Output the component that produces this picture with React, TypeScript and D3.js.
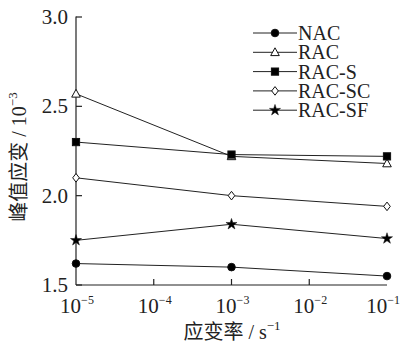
import React from "react";
import * as d3 from "d3";

const rates = [1e-5, 1e-3, 1e-1];
const seriesNames = ["NAC", "RAC", "RAC-S", "RAC-SC", "RAC-SF"];
const nacValues = [1.62, 1.6, 1.55];
const racValues = [2.57, 2.22, 2.18];
const racSValues = [2.3, 2.23, 2.22];
const racSCValues = [2.1, 2.0, 1.94];
const racSFValues = [1.75, 1.84, 1.76];
const yTicks = [1.5, 2.0, 2.5, 3.0];
const xTickExps = [-5, -4, -3, -2, -1];

const W = 401;
const H = 349;
const FONT = "'Liberation Serif', 'Times New Roman', serif";
const CJK = "'Noto Sans CJK SC', sans-serif";

const x = d3.scaleLog().domain([1e-5, 1e-1]).range([76, 387]);
const y = d3.scaleLinear().domain([1.5, 3.0]).range([285, 17]);

type Shape = "circle" | "triangle" | "square" | "diamond" | "star";
const seriesData: { name: string; values: number[]; shape: Shape; fill: string }[] = [
  { name: seriesNames[0], values: nacValues, shape: "circle", fill: "#000" },
  { name: seriesNames[1], values: racValues, shape: "triangle", fill: "#fff" },
  { name: seriesNames[2], values: racSValues, shape: "square", fill: "#000" },
  { name: seriesNames[3], values: racSCValues, shape: "diamond", fill: "#fff" },
  { name: seriesNames[4], values: racSFValues, shape: "star", fill: "#000" },
];

function Marker({ shape, cx, cy, fill }: { shape: Shape; cx: number; cy: number; fill: string }) {
  const stroke = "#111";
  if (shape === "circle") return <circle cx={cx} cy={cy} r={3.8} fill={fill} stroke={stroke} strokeWidth={1} />;
  if (shape === "square") return <rect x={cx - 3.6} y={cy - 3.6} width={7.2} height={7.2} fill={fill} stroke={stroke} strokeWidth={1} />;
  if (shape === "triangle")
    return (
      <path
        d={`M${cx},${cy - 4.5}L${cx + 4.3},${cy + 3.3}L${cx - 4.3},${cy + 3.3}Z`}
        fill={fill}
        stroke={stroke}
        strokeWidth={1}
      />
    );
  if (shape === "diamond")
    return (
      <path
        d={`M${cx},${cy - 4.3}L${cx + 3.3},${cy}L${cx},${cy + 4.3}L${cx - 3.3},${cy}Z`}
        fill={fill}
        stroke={stroke}
        strokeWidth={1}
      />
    );
  const sym = d3.symbol().type(d3.symbolStar).size(38)();
  return <path d={sym || ""} transform={`translate(${cx},${cy})`} fill={fill} stroke={stroke} strokeWidth={0.5} />;
}

export default function App() {
  const line = d3
    .line<number>()
    .x((_, i) => x(rates[i]))
    .y((d) => y(d));
  const legendX0 = 253;
  const legendX1 = 297;
  const legendY0 = 33;
  const legendStep = 19.3;

  return (
    <svg width={W} height={H} style={{ position: "absolute", left: 0, top: 0, background: "#fff" }}>
      <rect x={0} y={0} width={W} height={H} fill="#fff" />
      {/* axes */}
      <line x1={76} y1={16.5} x2={76} y2={285} stroke="#222" strokeWidth={1.2} />
      <line x1={76} y1={285} x2={387} y2={285} stroke="#222" strokeWidth={1.2} />
      {yTicks.map((t) => (
        <g key={t}>
          <line x1={76} x2={82} y1={y(t)} y2={y(t)} stroke="#222" strokeWidth={1.2} />
          <text
            x={68}
            y={y(t)}
            textAnchor="end"
            dominantBaseline="central"
            fontFamily={FONT}
            fontSize={21}
            fill="#222"
          >
            {t.toFixed(1)}
          </text>
        </g>
      ))}
      {xTickExps.map((e) => {
        const px = x(Math.pow(10, e));
        const last = e === -1;
        return (
          <g key={e}>
            {e !== -5 && !last && (
              <line x1={px} x2={px} y1={285} y2={279} stroke="#222" strokeWidth={1.2} />
            )}
            <text
              x={last ? 400 : px + 1}
              y={313}
              textAnchor={last ? "end" : "middle"}
              fontFamily={FONT}
              fontSize={21}
              fill="#222"
            >
              10
              <tspan dy={-9} fontSize={12}>
                {"\u2212" + Math.abs(e)}
              </tspan>
            </text>
          </g>
        );
      })}
      {/* axis titles */}
      <text x={232} y={339} textAnchor="middle" fontSize={20} fill="#222">
        <tspan fontFamily={CJK}>应变率</tspan>
        <tspan fontFamily={FONT}> / s</tspan>
        <tspan fontFamily={FONT} fontSize={13} dy={-9}>
          {"\u22121"}
        </tspan>
      </text>
      <text transform="translate(26,157) rotate(-90)" textAnchor="middle" fontSize={20} fill="#222">
        <tspan fontFamily={CJK}>峰值应变</tspan>
        <tspan fontFamily={FONT}> / 10</tspan>
        <tspan fontFamily={FONT} fontSize={13} dy={-9}>
          {"\u22123"}
        </tspan>
      </text>
      {/* series */}
      {seriesData.map((s) => (
        <path key={s.name} d={line(s.values) || ""} fill="none" stroke="#222" strokeWidth={1} />
      ))}
      {seriesData.map((s) =>
        s.values.map((v, i) => (
          <Marker key={s.name + i} shape={s.shape} cx={x(rates[i])} cy={y(v)} fill={s.fill} />
        ))
      )}
      {/* legend */}
      {seriesData.map((s, i) => {
        const ly = legendY0 + i * legendStep;
        return (
          <g key={"lg" + s.name}>
            <line x1={legendX0} x2={legendX1} y1={ly} y2={ly} stroke="#222" strokeWidth={1} />
            <Marker shape={s.shape} cx={(legendX0 + legendX1) / 2} cy={ly} fill={s.fill} />
            <text x={legendX1 + 1} y={ly} dominantBaseline="central" fontFamily={FONT} fontSize={20} fill="#222">
              {s.name}
            </text>
          </g>
        );
      })}
    </svg>
  );
}
